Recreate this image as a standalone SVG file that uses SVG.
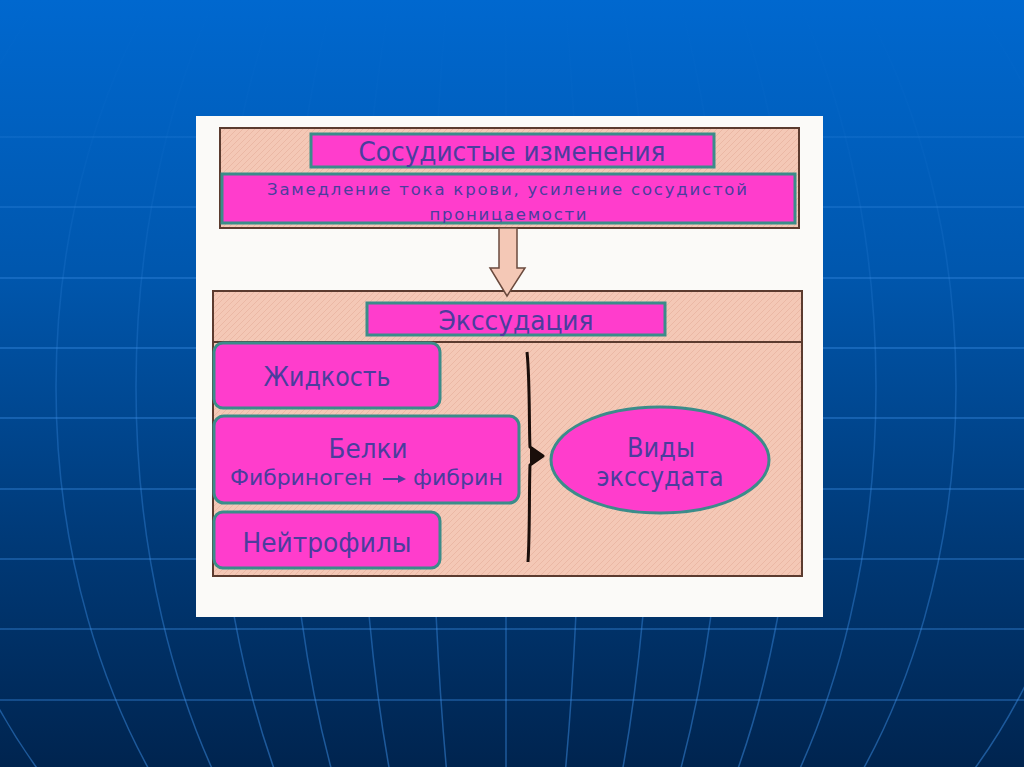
<svg xmlns="http://www.w3.org/2000/svg" width="1024" height="767" viewBox="0 0 1024 767">
  <defs>
    <linearGradient id="bg" x1="0" y1="0" x2="0" y2="1">
      <stop offset="0" stop-color="#0068cf"/>
      <stop offset="0.35" stop-color="#0057ae"/>
      <stop offset="0.7" stop-color="#003a78"/>
      <stop offset="1" stop-color="#00244f"/>
    </linearGradient>
    <linearGradient id="gridfade" gradientUnits="userSpaceOnUse" x1="0" y1="0" x2="0" y2="767">
      <stop offset="0" stop-color="#3b8ee6" stop-opacity="0"/>
      <stop offset="0.2" stop-color="#3b8ee6" stop-opacity="0.06"/>
      <stop offset="0.5" stop-color="#3b8ee6" stop-opacity="0.3"/>
      <stop offset="1" stop-color="#3b8ee6" stop-opacity="0.5"/>
    </linearGradient>
    <linearGradient id="hfade" gradientUnits="userSpaceOnUse" x1="0" y1="0" x2="0" y2="767">
      <stop offset="0" stop-color="#3b8ee6" stop-opacity="0"/>
      <stop offset="0.17" stop-color="#3b8ee6" stop-opacity="0.2"/>
      <stop offset="0.4" stop-color="#3b8ee6" stop-opacity="0.5"/>
      <stop offset="1" stop-color="#3b8ee6" stop-opacity="0.45"/>
    </linearGradient>
    <pattern id="hatch" patternUnits="userSpaceOnUse" width="6" height="6">
      <rect width="6" height="6" fill="#f4c8b6"/>
      <path d="M0,6 L6,0" stroke="#e7b29e" stroke-width="0.7"/>
    </pattern>
    <style>
      .grid { fill: none; stroke: url(#gridfade); stroke-width: 1.5; }
      .hgrid { fill: none; stroke: url(#hfade); stroke-width: 1.5; }
      .frame { fill: url(#hatch); stroke: #5b3b2f; stroke-width: 2; }
      .node { fill: #ff3dcc; stroke: #3b8c8a; stroke-width: 3; }
      .t { font-family: "DejaVu Sans", "Liberation Sans", sans-serif; fill: #4b3d9d; text-anchor: middle; }
    </style>
  </defs>

  <!-- background -->
  <rect x="0" y="0" width="1024" height="767" fill="url(#bg)"/>
  <g id="background-grid">
    <path class="hgrid" d="M0,137 H1024 M0,207 H1024 M0,278 H1024 M0,348 H1024 M0,418 H1024 M0,489 H1024 M0,559 H1024 M0,629 H1024 M0,700 H1024"/>
    <line class="grid" x1="506" y1="0" x2="506" y2="767"/>
    <ellipse class="grid" cx="506" cy="387" rx="75" ry="628"/>
    <ellipse class="grid" cx="506" cy="387" rx="147" ry="628"/>
    <ellipse class="grid" cx="506" cy="387" rx="220" ry="628"/>
    <ellipse class="grid" cx="506" cy="387" rx="292" ry="628"/>
    <ellipse class="grid" cx="506" cy="387" rx="370" ry="628"/>
    <ellipse class="grid" cx="506" cy="387" rx="450" ry="628"/>
    <ellipse class="grid" cx="506" cy="387" rx="590" ry="628"/>
  </g>

  <!-- white panel -->
  <rect x="196" y="116" width="627" height="501" fill="#fbfaf8"/>

  <!-- frames -->
  <g id="frame-top">
    <rect class="frame" x="220" y="128" width="579" height="100"/>
  </g>
  <g id="frame-bottom">
    <rect class="frame" x="213" y="291" width="589" height="285"/>
    <line x1="213" y1="342" x2="802" y2="342" stroke="#5b3b2f" stroke-width="2"/>
  </g>

  <!-- connectors -->
  <g id="connectors">
    <polygon points="499,228 517,228 517,268 525,268 507,296 490,268 499,268" fill="#f4c8b6" stroke="#6a4a3e" stroke-width="1.5"/>
    <path d="M527,352 C530,380 529,430 530,447 L543,456 L530,465 C529,490 530,530 528,562" fill="none" stroke="#1a0e0a" stroke-width="3" stroke-linejoin="round"/>
    <polygon points="530,446 543,456 530,466" fill="#1a0e0a"/>
  </g>

  <!-- nodes -->
  <g id="node-vascular">
    <rect class="node" x="311" y="134" width="403" height="33"/>
    <text class="t" x="512" y="161" font-size="26" textLength="307" lengthAdjust="spacingAndGlyphs">Сосудистые изменения</text>
  </g>
  <g id="node-slowdown">
    <rect class="node" x="222" y="174" width="573" height="49"/>
    <text class="t" x="507" y="195" font-size="16.5" textLength="480" lengthAdjust="spacing">Замедление тока крови, усиление сосудистой</text>
    <text class="t" x="508" y="220" font-size="16.5" textLength="157" lengthAdjust="spacing">проницаемости</text>
  </g>
  <g id="node-exudation">
    <rect class="node" x="367" y="303" width="298" height="32"/>
    <text class="t" x="516" y="330" font-size="26" textLength="155" lengthAdjust="spacingAndGlyphs">Экссудация</text>
  </g>
  <g id="node-fluid">
    <rect class="node" x="214" y="343" width="226" height="65" rx="9"/>
    <text class="t" x="327" y="386" font-size="26" textLength="127" lengthAdjust="spacingAndGlyphs">Жидкость</text>
  </g>
  <g id="node-proteins">
    <rect class="node" x="214" y="416" width="305" height="87" rx="10"/>
    <text class="t" x="368" y="458" font-size="26" textLength="79" lengthAdjust="spacingAndGlyphs">Белки</text>
    <text class="t" x="301" y="485" font-size="21" textLength="142" lengthAdjust="spacingAndGlyphs">Фибриноген</text>
    <line x1="383" y1="479" x2="400" y2="479" stroke="#4b3d9d" stroke-width="2"/>
    <polygon points="398,475 406,479 398,483" fill="#4b3d9d"/>
    <text class="t" x="458" y="485" font-size="21" textLength="90" lengthAdjust="spacingAndGlyphs">фибрин</text>
  </g>
  <g id="node-neutrophils">
    <rect class="node" x="214" y="512" width="226" height="56" rx="9"/>
    <text class="t" x="327" y="552" font-size="26" textLength="169" lengthAdjust="spacingAndGlyphs">Нейтрофилы</text>
  </g>
  <g id="node-types">
    <ellipse class="node" cx="660" cy="460" rx="109" ry="53"/>
    <text class="t" x="661" y="457" font-size="26" textLength="68" lengthAdjust="spacingAndGlyphs">Виды</text>
    <text class="t" x="660" y="486" font-size="26" textLength="127" lengthAdjust="spacingAndGlyphs">экссудата</text>
  </g>
</svg>
